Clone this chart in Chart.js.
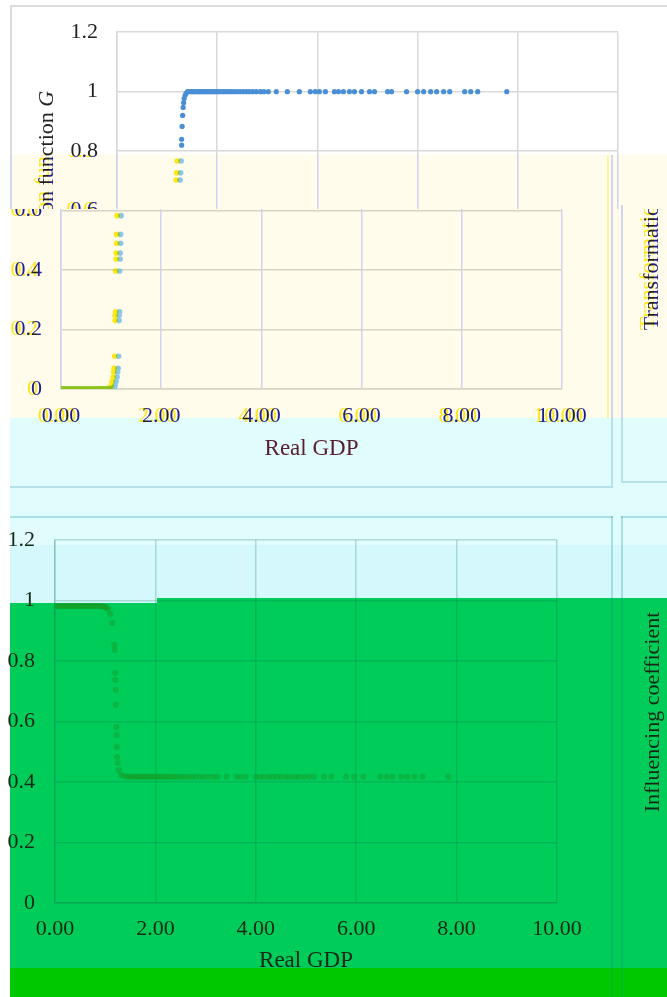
<!DOCTYPE html>
<html><head><meta charset="utf-8">
<script src="https://cdn.jsdelivr.net/npm/chart.js@4"></script>
<style>
html,body{margin:0;padding:0;background:#fff;}
body{width:667px;height:997px;position:relative;overflow:hidden;}
.abs{position:absolute;}
.clip{position:absolute;overflow:hidden;}
canvas{position:absolute;display:block;}
</style></head><body>
<!-- coloured panels -->
<div class="abs" style="left:10px;top:155px;width:657px;height:263px;background:#fffcec"></div>
<div class="abs" style="left:10px;top:418px;width:657px;height:127px;background:#e0fcfc"></div>
<div class="abs" style="left:10px;top:545px;width:657px;height:58px;background:#d4f8fc"></div>
<div class="abs" style="left:157px;top:598px;width:510px;height:5px;background:#00cc5a"></div>
<div class="abs" style="left:10px;top:603px;width:657px;height:365px;background:#00cc5a"></div>
<div class="abs" style="left:10px;top:968px;width:657px;height:29px;background:#00c800"></div>
<!-- frame lines -->
<div class="abs" style="left:10px;top:5px;width:657px;height:150px;border-top:2px solid #dcdcdc;border-left:2px solid #dcdcdc;box-sizing:border-box"></div>
<div class="abs" style="left:10px;top:155px;width:2px;height:54px;background:#d6d6f2"></div>
<div class="abs" style="left:607px;top:155px;width:2px;height:263px;background:#fff2a0"></div>
<div class="abs" style="left:611px;top:155px;width:2px;height:263px;background:#d4d4f2"></div>
<div class="abs" style="left:611px;top:418px;width:2px;height:70px;background:#b4e2e8"></div>
<div class="abs" style="left:10px;top:486px;width:603px;height:2px;background:#b4e2e8"></div>
<div class="abs" style="left:621px;top:205px;width:2px;height:213px;background:#d4d4f2"></div>
<div class="abs" style="left:621px;top:418px;width:2px;height:64px;background:#b4e2e8"></div>
<div class="abs" style="left:621px;top:481px;width:46px;height:2px;background:#b4e2e8"></div>
<div class="abs" style="left:10px;top:516px;width:603px;height:2px;background:rgba(0,140,150,0.25)"></div>
<div class="abs" style="left:611px;top:516px;width:2px;height:481px;background:rgba(0,140,150,0.25)"></div>
<div class="abs" style="left:621px;top:516px;width:46px;height:2px;background:rgba(0,140,150,0.25)"></div>
<div class="abs" style="left:621px;top:516px;width:2px;height:481px;background:rgba(0,140,150,0.25)"></div>
<!-- charts -->
<div class="clip" style="left:0;top:0;width:667px;height:155px"><canvas id="cTop" width="667" height="480" style="left:0;top:0"></canvas></div>
<div class="clip" style="left:0;top:155px;width:667px;height:54px"><canvas id="cTint" width="667" height="480" style="left:0;top:-155px"></canvas></div>
<div class="clip" style="left:9px;top:209px;width:658px;height:291px"><canvas id="cMid" width="723" height="480" style="left:-65px;top:-209px"></canvas></div>
<canvas id="cBot" width="667" height="497" style="left:0;top:500px"></canvas>
<script>
// ---------- data ----------
const xTicks = [0, 2, 4, 6, 8, 10];
const xTickLabels = ['0.00', '2.00', '4.00', '6.00', '8.00', '10.00'];
const yTicks = [0, 0.2, 0.4, 0.6, 0.8, 1, 1.2];
const yTickLabels = ['0', '0.2', '0.4', '0.6', '0.8', '1', '1.2'];
const xTitle = 'Real GDP';
const gTitleText = 'Transformation function ';
const gTitleSymbol = 'G';
const kTitle = 'Influencing coefficient';

// Transformation function G vs real GDP
const gdpG = [0.01,0.04,0.06,0.09,0.12,0.14,0.17,0.20,0.23,0.25,0.28,0.31,0.34,0.36,0.39,0.42,0.45,0.47,0.50,0.53,
  0.56,0.59,0.61,0.64,0.67,0.70,0.72,0.75,0.78,0.81,0.84,0.86,0.89,0.92,0.95,0.97,1.00,1.02,1.04,
  1.06,1.08,1.10,1.12,1.13,1.14,1.15,1.16,1.16,1.17,1.17,1.18,1.18,1.19,1.19,1.20,
  1.26,1.27,1.28,1.29,1.29,1.30,1.31,1.32,1.33,1.34,1.36,1.38,1.41,
  1.44,1.48,1.52,1.55,1.59,1.63,1.66,1.70,1.74,1.78,1.81,1.85,1.89,1.93,1.97,2.01,2.05,2.10,2.14,2.19,
  2.24,2.29,2.34,2.40,2.46,2.52,2.58,2.64,2.71,2.78,2.86,2.93,3.02,
  3.18,3.40,3.64,3.86,3.96,4.04,4.16,4.34,4.42,4.52,4.64,4.74,4.88,5.04,5.14,5.40,5.48,5.78,6.00,6.12,
  6.26,6.38,6.52,6.64,6.94,7.06,7.20,7.78];
const valG = [0,0,0,0,0,0,0,0,0,0,0,0,0,0,0,0,0,0,0,0,
  0,0,0,0,0,0,0,0,0,0,0,0,0,0,0,0,0.001,0.002,0.003,
  0.005,0.012,0.025,0.04,0.057,0.07,0.11,0.23,0.247,0.26,0.397,0.437,0.457,0.49,0.52,0.583,
  0.703,0.727,0.767,0.82,0.84,0.883,0.92,0.947,0.963,0.977,0.988,0.995,1,
  1,1,1,1,1,1,1,1,1,1,1,1,1,1,1,1,1,1,1,1,
  1,1,1,1,1,1,1,1,1,1,1,1,1,
  1,1,1,1,1,1,1,1,1,1,1,1,1,1,1,1,1,1,1,1,
  1,1,1,1,1,1,1,1];

// Influencing coefficient vs real GDP
const gdpK = [0.03,0.05,0.08,0.11,0.13,0.16,0.19,0.22,0.24,0.27,0.30,0.33,0.35,0.38,0.41,0.44,0.46,0.49,0.52,0.55,
  0.57,0.60,0.63,0.66,0.68,0.71,0.74,0.77,0.79,0.82,0.85,0.88,0.90,0.93,0.96,0.99,1.01,1.03,
  1.06,1.10,1.14,1.18,1.19,1.20,1.20,1.21,1.21,1.22,1.23,1.23,1.24,1.25,1.27,1.31,1.36,1.42,
  1.46,1.50,1.54,1.57,1.61,1.65,1.68,1.72,1.76,1.80,1.83,1.87,1.91,1.95,1.99,2.03,2.07,2.12,2.16,2.21,
  2.26,2.31,2.36,2.42,2.48,2.54,2.60,2.66,2.73,2.80,2.88,2.96,3.06,
  3.16,3.24,3.42,3.62,3.70,3.80,4.00,4.08,4.16,4.26,4.34,4.42,4.50,4.60,4.68,4.78,4.86,4.96,5.06,5.16,
  5.36,5.50,5.80,5.96,6.14,6.48,6.60,6.72,6.90,7.02,7.16,7.32,7.84];
const valK = [0.982,0.982,0.982,0.982,0.982,0.982,0.982,0.982,0.982,0.982,0.982,0.982,0.982,0.982,0.982,0.982,0.982,0.982,0.982,0.982,
  0.982,0.982,0.982,0.982,0.982,0.982,0.982,0.982,0.982,0.982,0.982,0.982,0.981,0.981,0.980,0.979,0.978,0.976,
  0.972,0.955,0.926,0.853,0.836,0.760,0.737,0.704,0.655,0.582,0.555,0.516,0.483,0.463,0.440,0.425,0.420,0.418,
  0.417,0.417,0.417,0.417,0.417,0.417,0.417,0.417,0.417,0.417,0.417,0.417,0.417,0.417,0.417,0.417,0.417,0.417,0.417,0.417,
  0.417,0.417,0.417,0.417,0.417,0.417,0.417,0.417,0.417,0.417,0.417,0.417,0.417,
  0.417,0.417,0.417,0.417,0.417,0.417,0.417,0.417,0.417,0.417,0.417,0.417,0.417,0.417,0.417,0.417,0.417,0.417,0.417,0.417,
  0.417,0.417,0.417,0.417,0.417,0.417,0.417,0.417,0.417,0.417,0.417,0.417,0.417];

// ---------- rendering ----------
const FF = "'Liberation Serif', 'Times New Roman', serif";
Chart.defaults.font.family = FF;

function drawRot(ctx, t) {
  ctx.save();
  ctx.translate(t.x, t.y);
  ctx.rotate(-Math.PI / 2);
  ctx.textBaseline = 'middle';
  ctx.textAlign = 'left';
  ctx.fillStyle = t.color;
  let total = 0;
  const ws = t.parts.map(p => { ctx.font = p.font; const w = ctx.measureText(p.text).width; total += w; return w; });
  let x = -total / 2;
  t.parts.forEach((p, i) => { ctx.font = p.font; ctx.fillText(p.text, x, 0); x += ws[i]; });
  ctx.restore();
}
function makeFx(shadow, sx, titles) {
  return {
    id: 'fx',
    beforeDatasetsDraw(chart) {
      const c = chart.ctx; c.save();
      if (shadow) {
        c.shadowColor = shadow; c.shadowOffsetX = sx; c.shadowOffsetY = 0; c.shadowBlur = 0;
        c.globalCompositeOperation = 'darken';
      }
    },
    afterDraw(chart) {
      const c = chart.ctx;
      titles.forEach(t => drawRot(c, t));
      c.restore();
    }
  };
}
function pts(xs, ys) { return xs.map((x, i) => ({ x: x, y: ys[i] })); }

function makeChart(id, o) {
  const ctx = document.getElementById(id);
  return new Chart(ctx, {
    type: 'scatter',
    data: { datasets: [{ data: pts(o.xs, o.ys), backgroundColor: o.pt, borderColor: o.pt, borderWidth: 0, pointRadius: o.r, pointHoverRadius: o.r }] },
    options: {
      responsive: false, animation: false, events: [],
      layout: { padding: { left: 0, top: o.padTop, right: o.padRight, bottom: 0 } },
      plugins: { legend: { display: false }, tooltip: { enabled: false } },
      scales: {
        x: {
          type: 'linear', min: 0, max: 10,
          afterBuildTicks: s => { s.ticks = xTicks.map(v => ({ value: v })); },
          afterFit: s => { s.height = o.xh; },
          grid: { color: o.gx, lineWidth: 1.5, drawTicks: false },
          border: { display: true, color: o.bx, width: 1.5 },
          ticks: { z: 1, padding: o.xtp, color: o.tc, font: { size: 22 }, maxRotation: 0, autoSkip: false, callback: (v, i) => xTickLabels[i] },
          title: { display: true, text: xTitle, color: o.ttc, font: { size: 23 }, padding: { top: 0, bottom: o.xtitlePad } }
        },
        y: {
          type: 'linear', min: 0, max: 1.2,
          afterBuildTicks: s => { s.ticks = yTicks.map(v => ({ value: v })); },
          afterFit: s => { s.width = o.yw; },
          grid: { color: o.gy, lineWidth: 1.5, drawTicks: false },
          border: { display: true, color: o.by, width: 1.5 },
          ticks: { z: 1, padding: o.ytp, color: o.tc, font: { size: 22 }, callback: (v, i) => yTickLabels[i] }
        }
      }
    },
    plugins: [makeFx(o.shadow, o.sx, o.titles)]
  });
}

const gParts = () => [{ text: gTitleText, font: '22px ' + FF }, { text: gTitleSymbol, font: 'italic 22px ' + FF }];

// top (white) view of G chart
makeChart('cTop', {
  xs: gdpG, ys: valG, pt: '#4a8fd6', r: 2.6,
  padTop: 29, padRight: 49, xh: 91, yw: 117, xtp: 14, ytp: 19, xtitlePad: 17,
  gx: '#d9d9d9', gy: '#d9d9d9', bx: '#d9d9d9', by: '#d9d9d9', tc: '#222222', ttc: '#222222',
  shadow: null, sx: 0,
  titles: [{ x: 47, y: 209, color: '#222222', parts: gParts() }]
});
// tinted strip view of G chart
makeChart('cTint', {
  xs: gdpG, ys: valG, pt: '#8cc6ee', r: 2.8,
  padTop: 29, padRight: 49, xh: 91, yw: 117, xtp: 14, ytp: 19, xtitlePad: 17,
  gx: '#d2d2f2', gy: '#d9d3c6', bx: '#d9d3c6', by: '#d2d2f2', tc: '#1e1e8c', ttc: '#5a2030',
  shadow: '#ffe619', sx: -4,
  titles: [{ x: 47, y: 209, color: '#1e1e8c', parts: gParts() }]
});
// shifted view of G chart
makeChart('cMid', {
  xs: gdpG, ys: valG, pt: '#8cc6ee', r: 2.8,
  padTop: 29, padRight: 105, xh: 91, yw: 117, xtp: 14, ytp: 19, xtitlePad: 17,
  gx: '#d2d2f2', gy: '#d9d3c6', bx: '#d9d3c6', by: '#d2d2f2', tc: '#1e1e8c', ttc: '#5a2030',
  shadow: '#ffe619', sx: -4,
  titles: [{ x: 708, y: 212, color: '#1e1e8c', parts: gParts() }]
});
// influencing coefficient chart
makeChart('cBot', {
  xs: gdpK, ys: valK, pt: 'rgba(20,160,40,0.5)', r: 3,
  padTop: 40, padRight: 110, xh: 94, yw: 55, xtp: 13, ytp: 20, xtitlePad: 22,
  gx: 'rgba(0,110,70,0.22)', gy: 'rgba(0,110,70,0.22)', bx: 'rgba(0,110,70,0.22)', by: 'rgba(0,110,70,0.22)', tc: '#152815', ttc: '#152815',
  shadow: null, sx: 0,
  titles: [{ x: 653, y: 212, color: '#152815', parts: [{ text: kTitle, font: '22px ' + FF }] }]
});
</script>
</body></html>
